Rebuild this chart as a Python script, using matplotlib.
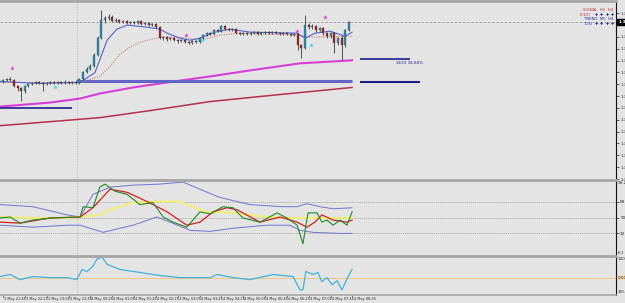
import numpy as np
import matplotlib.pyplot as plt

W, H = 625, 303
BG = '#e4e4e4'

# ---- candles ----
closes = [1.3520, 1.3521, 1.3520, 1.3514, 1.3512, 1.3510, 1.3514, 1.3516, 1.3517, 1.3518,
          1.3517, 1.3516, 1.3517, 1.3518, 1.3517, 1.3518, 1.3517, 1.3518, 1.3517, 1.3518,
          1.3517, 1.3521, 1.3528, 1.3531, 1.3534, 1.3545, 1.3562, 1.3580, 1.3582, 1.3583,
          1.3579, 1.3580, 1.3578, 1.3579, 1.3577, 1.3578, 1.3577, 1.3579, 1.3576, 1.3577,
          1.3575, 1.3576, 1.3573, 1.3562, 1.3563, 1.3561, 1.3562, 1.3560, 1.3559, 1.3560,
          1.3558, 1.3557, 1.3559, 1.3558, 1.3562, 1.3565, 1.3567, 1.3566, 1.3570, 1.3569,
          1.3574, 1.3571, 1.3570, 1.3571, 1.3567, 1.3566, 1.3567, 1.3566, 1.3567, 1.3568,
          1.3566, 1.3567, 1.3568, 1.3567, 1.3568, 1.3567, 1.3566, 1.3567, 1.3566, 1.3565,
          1.3566, 1.3555, 1.3552, 1.3575, 1.3573, 1.3574, 1.3570, 1.3572, 1.3567, 1.3564,
          1.3567, 1.3557, 1.3562, 1.3555, 1.3570, 1.3578]
highs = [1.3521, 1.3522, 1.3523, 1.3521, 1.3515, 1.3513, 1.3515, 1.3517, 1.3518, 1.3519,
         1.3519, 1.3518, 1.3518, 1.3519, 1.3519, 1.3519, 1.3519, 1.3520, 1.3519, 1.3519,
         1.3519, 1.3522, 1.3529, 1.3533, 1.3536, 1.3547, 1.3564, 1.3590, 1.3584, 1.3586,
         1.3585, 1.3582, 1.3581, 1.3580, 1.3580, 1.3579, 1.3579, 1.3580, 1.3580, 1.3578,
         1.3578, 1.3577, 1.3577, 1.3574, 1.3564, 1.3564, 1.3563, 1.3563, 1.3561, 1.3561,
         1.3561, 1.3559, 1.3560, 1.3560, 1.3563, 1.3566, 1.3568, 1.3568, 1.3571, 1.3571,
         1.3575, 1.3575, 1.3572, 1.3572, 1.3572, 1.3568, 1.3568, 1.3568, 1.3568, 1.3569,
         1.3569, 1.3568, 1.3569, 1.3569, 1.3569, 1.3569, 1.3568, 1.3568, 1.3568, 1.3567,
         1.3567, 1.3567, 1.3556, 1.3585, 1.3577, 1.3576, 1.3575, 1.3573, 1.3573, 1.3568,
         1.3568, 1.3568, 1.3563, 1.3564, 1.3571, 1.3579]
lows = [1.3517, 1.3519, 1.3519, 1.3513, 1.3510, 1.3500, 1.3508, 1.3513, 1.3515, 1.3516,
        1.3516, 1.3510, 1.3515, 1.3516, 1.3516, 1.3516, 1.3516, 1.3516, 1.3516, 1.3516,
        1.3516, 1.3516, 1.3520, 1.3527, 1.3530, 1.3533, 1.3544, 1.3561, 1.3577, 1.3580,
        1.3578, 1.3578, 1.3577, 1.3577, 1.3576, 1.3576, 1.3576, 1.3576, 1.3575, 1.3575,
        1.3574, 1.3574, 1.3572, 1.3561, 1.3560, 1.3559, 1.3560, 1.3559, 1.3557, 1.3558,
        1.3557, 1.3556, 1.3556, 1.3557, 1.3557, 1.3561, 1.3564, 1.3565, 1.3565, 1.3568,
        1.3568, 1.3570, 1.3569, 1.3569, 1.3566, 1.3565, 1.3565, 1.3565, 1.3565, 1.3566,
        1.3565, 1.3565, 1.3566, 1.3566, 1.3566, 1.3566, 1.3565, 1.3565, 1.3565, 1.3564,
        1.3564, 1.3550, 1.3542, 1.3551, 1.3571, 1.3571, 1.3568, 1.3569, 1.3565, 1.3562,
        1.3562, 1.3547, 1.3555, 1.3540, 1.3553, 1.3569]
opens = [1.3518] + closes[:-1]
bid = 1.3578

# ---- moving averages / levels on the main window (bar index, price) ----
ma_fast_x = [-0.82, 10.2, 21.2, 25.3, 28.6, 31.3, 34.1, 39.6, 43.1, 45.1, 48.6, 51.4,
             54.1, 58.2, 62.4, 67.9, 80.8, 83, 85.7, 89.8, 94, 95.9]
ma_fast_y = [1.3519, 1.3517, 1.3518, 1.3528, 1.3560, 1.3571, 1.3575, 1.3573, 1.3571, 1.3567,
             1.3562, 1.3560, 1.3562, 1.3568, 1.3571, 1.3568, 1.3567, 1.3562, 1.3567, 1.3569,
             1.3564, 1.3568]
ma_slow_x = [-0.82, 21.2, 26.6, 29.4, 32.1, 34.9, 37.6, 43.1, 48.6, 54.1, 59.6, 65.1, 80.8, 84.3, 95.9]
ma_slow_y = [1.3518, 1.3518, 1.3524, 1.3534, 1.3546, 1.3553, 1.3558, 1.3563, 1.3563, 1.3560,
             1.3565, 1.3567, 1.3565, 1.3563, 1.3564]
ma_magenta_x = [-0.82, 12.9, 21.2, 26.6, 35.7, 45.1, 56.9, 67.9, 81.6, 95.9]
ma_magenta_y = [1.3494, 1.3498, 1.3502, 1.3507, 1.3513, 1.3518, 1.3524, 1.3530, 1.3537, 1.3540]
ma_red_x = [-0.82, 26.6, 40.4, 56.9, 76.1, 95.9]
ma_red_y = [1.3475, 1.3483, 1.3490, 1.3499, 1.3506, 1.3513]

sell_x = [2.4, 50.3, 80.9, 88.5]
sell_y = [1.3532, 1.3565, 1.3569, 1.3583]
buy_x = [14.3, 54.6, 84.6]
buy_y = [1.3513, 1.3560, 1.3555]

price_ticks = [1.35870, 1.35634, 1.35516, 1.35398, 1.35280, 1.35163, 1.35045, 1.34927,
               1.34809, 1.34691, 1.34573, 1.34455, 1.34337, 1.34219]

# ---- TDI window ----
up_x = [-0.82, 8.2, 17.6, 21.2, 24.7, 29.4, 35.7, 43.1, 49.5, 54.1, 59.6, 67.9, 76.9, 80.8, 83.5, 87.1, 90.7, 95.9]
up_y = [65.0, 62.6, 53.2, 50.8, 76.7, 85.0, 87.3, 88.5, 90.8, 82.6, 73.2, 65.0, 62.6, 62.6, 66.1, 62.6, 60.2, 61.4]
lo_x = [-0.82, 8.2, 17.6, 21.2, 27.5, 35.7, 42.3, 45.9, 51.4, 56.9, 63.2, 72.5, 78.8, 81.6, 85.2, 92.6, 95.9]
lo_y = [41.4, 39.1, 41.4, 41.4, 33.2, 41.4, 50.8, 44.9, 35.5, 34.3, 37.9, 41.4, 41.4, 35.5, 33.2, 32.0, 32.0]
base_x = [-0.82, 8.2, 17.6, 21.2, 26.6, 29.4, 35.7, 42.3, 48.6, 54.1, 56.9, 59.6, 63.2, 72.5, 79.7, 84.3, 90.7, 95.9]
base_y = [50.8, 49.7, 49.7, 50.8, 53.2, 59.1, 67.3, 68.5, 68.5, 59.1, 55.5, 56.7, 55.5, 50.8, 49.7, 49.7, 49.7, 49.7]
sig_x = [-0.82, 4.7, 12.9, 21.2, 24.7, 29.4, 34.1, 39.6, 45.1, 50.5, 54.1, 57.7, 61.5, 64.3, 70.6,
         76.1, 80.8, 83.5, 85.7, 87.6, 90.7, 94.5, 95.9]
sig_y = [44.9, 43.8, 49.7, 50.8, 61.4, 82.6, 79.1, 68.5, 56.7, 41.4, 44.9, 56.7, 61.4, 59.1, 44.9,
         50.8, 44.9, 39.1, 44.9, 53.2, 47.3, 44.9, 47.3]
rsi_x = [-0.82, 1.9, 4.7, 8.2, 13.7, 21.2, 22, 24.7, 26.6, 28, 30.8, 34.1, 37.6, 41.2, 44, 46.7,
         50.5, 54.1, 56.9, 60.4, 63.2, 65.9, 70.6, 75.3, 78, 80.8, 82.4, 83.8, 86.3, 87.6, 89,
         90.7, 92.6, 94.5, 95.9]
rsi_y = [49.7, 50.8, 43.8, 47.3, 49.7, 50.8, 62.6, 61.4, 85.0, 88.5, 80.3, 76.7, 65.0, 67.3, 50.8, 44.9,
         39.1, 56.7, 54.4, 62.6, 61.4, 49.7, 44.9, 55.5, 49.7, 41.4, 20.2, 55.5, 55.5, 44.9, 47.3,
         41.4, 47.3, 41.4, 56.7]
tdi_levels = [68, 50, 32]

# ---- lower oscillator ----
osc_x = [-0.82, 1.9, 4.7, 8.2, 12.9, 17.6, 20.3, 21.7, 23.1, 24.7, 25.8, 27.2, 28.6, 32.1, 37.6,
         43.1, 48.6, 56.9, 58.8, 63.2, 67.9, 74.2, 79.7, 81.6, 82.4, 83.2, 85.2, 86.5, 87.6, 89,
         90.4, 91.8, 93.1, 94.8, 95.9]
osc_y = [4.8, 14.4, -9.5, 4.8, 0, 0, -9.5, 38.1, 28.6, 52.4, 85.7, 95.2, 61.9, 38.1, 23.9,
         9.6, 0, 0, 14.4, 0, -9.5, 14.4, 4.8, -57.0, -57.0, 28.6, 14.4, 23.9, -19.0, 0,
         -33.2, -14.2, -57.0, 4.8, 38.1]

time_labels = ['3 May 21:45', '3 May 22:25', '3 May 23:05', '3 May 23:45', '4 May 00:25',
               '4 May 01:05', '4 May 01:45', '4 May 02:25', '4 May 03:05', '4 May 03:45',
               '4 May 04:25', '4 May 05:05', '4 May 05:45', '4 May 06:25', '4 May 07:05',
               '4 May 07:45', '4 May 08:25']


def box(x0, y0, x1, y1):
    return [x0 / W, 1 - y1 / H, (x1 - x0) / W, (y1 - y0) / H]


fig = plt.figure(figsize=(W / 100, H / 100), dpi=100, facecolor=BG)
ax = fig.add_axes(box(0, 1, 616, 180))
ax2 = fig.add_axes(box(0, 180, 616, 256), sharex=ax)
ax3 = fig.add_axes(box(0, 256, 616, 295), sharex=ax)

for a in (ax, ax2, ax3):
    a.set_facecolor(BG)
    a.set_xlim(-0.82, 168.4)
    for s in ('left', 'bottom'):
        a.spines[s].set_visible(False)
    a.spines['top'].set_color('#a6a6a6')
    a.spines['top'].set_linewidth(2)
    a.spines['right'].set_color('#111111')
    a.spines['right'].set_linewidth(0.8)
    a.yaxis.tick_right()
    a.tick_params(axis='y', length=2, width=0.5, labelsize=3.0, pad=1, colors='#222222')
    a.tick_params(axis='x', bottom=False, labelbottom=False)
    a.axvline(20.3, color='#b2b2b2', lw=0.7, ls=':')
ax3.spines['bottom'].set_visible(True)
ax3.spines['bottom'].set_color('#a6a6a6')
ax3.spines['bottom'].set_linewidth(1.2)

# ---- main window ----
ax.set_ylim(1.3421, 1.3599)
ax.set_yticks(price_ticks)
ax.set_yticklabels(['%.5f' % p for p in price_ticks])
ax.axhline(bid, color='#9c9c9c', lw=0.6, ls=(0, (3, 2)))
ax.annotate('%.5f' % bid, xy=(1.0, bid), xycoords=('axes fraction', 'data'),
            xytext=(1.5, 0), textcoords='offset points', va='center', ha='left',
            fontsize=3.0, color='white', fontweight='bold',
            bbox=dict(boxstyle='square,pad=0.15', fc='black', ec='black'))

ax.plot(ma_red_x, ma_red_y, color='#b3304c', lw=1.1)
ax.plot(ma_magenta_x, ma_magenta_y, color='#d63fd6', lw=1.5)
ax.hlines(1.35195, 20.0, 95.9, color='#6464c8', lw=2.2)
ax.hlines(1.3493, -0.82, 19.0, color='#1e1e8a', lw=1.2)
ax.hlines(1.3518, 98, 114.6, color='#1e1e8a', lw=1.5)
ax.hlines(1.3541, 98, 111.8, color='#1e1e8a', lw=1.2)
ax.text(115.5, 1.35395, '1633 34.80%', fontsize=3.0, color='#1e1e8a', ha='right', va='top')
ax.plot(ma_slow_x, ma_slow_y, color='#c47a6a', lw=0.8, ls=(0, (1, 1.2)))
ax.plot(ma_fast_x, ma_fast_y, color='#5262cc', lw=0.8)

xs = np.arange(len(closes))
for i in xs:
    o, c = opens[i], closes[i]
    ax.vlines(i, lows[i], highs[i], color='#3a3a3a', lw=0.6, zorder=3)
    col = '#2c8db3' if c > o else ('#a82222' if c < o else '#333333')
    h = max(abs(c - o), 0.00008)
    ax.bar(i, h, bottom=min(o, c), width=0.55, color=col, edgecolor='#333333', lw=0.2, zorder=4)

ax.scatter(sell_x, sell_y, marker='*', s=14, color='#d84ad8', lw=0, zorder=5)
ax.scatter(buy_x, buy_y, marker='*', s=14, color='#45d5e5', lw=0, zorder=5)

# dashboard text at top right
fig.text(613 / W, 1 - 10 / H, 'SIGNAL  H1  H4', fontsize=2.8, color='#c03030', ha='right', va='center')
fig.text(591 / W, 1 - 14.5 / H, 'D(10)', fontsize=2.8, color='#c03030', ha='right', va='center')
fig.text(613 / W, 1 - 19.5 / H, 'TREND  M5  H4', fontsize=2.8, color='#2a2a9a', ha='right', va='center')
fig.text(593 / W, 1 - 24 / H, 'D(5)', fontsize=2.8, color='#2a2a9a', ha='right', va='center')
for px in (596, 601.5, 607, 612.5):
    for py in (14.5, 24):
        fig.text(px / W, 1 - py / H, '\u271a', fontsize=2.6, color='#22228a', ha='center', va='center')

# ---- TDI window ----
ax2.set_ylim(6.1, 93.2)
ax2.set_yticks(tdi_levels)
ax2.set_yticklabels([str(v) for v in tdi_levels])
for lv in tdi_levels:
    ax2.axhline(lv, color='#a8a8a8', lw=0.7, ls=(0, (1, 1)))
ax2.annotate('93.2', xy=(1.0, 93.2), xycoords=('axes fraction', 'data'), xytext=(1.5, -0.5),
             textcoords='offset points', fontsize=3.0, va='top', ha='left', color='#222222')
ax2.annotate('6.1', xy=(1.0, 6.1), xycoords=('axes fraction', 'data'), xytext=(1.5, 0.5),
             textcoords='offset points', fontsize=3.0, va='bottom', ha='left', color='#222222')
ax2.plot(up_x, up_y, color='#7272d2', lw=0.7)
ax2.plot(lo_x, lo_y, color='#7272d2', lw=0.7)
ax2.plot(base_x, base_y, color='#f3ee78', lw=1.5)
ax2.plot(sig_x, sig_y, color='#d42020', lw=0.9)
ax2.plot(rsi_x, rsi_y, color='#1f8a24', lw=0.8)

# ---- oscillator window ----
ax3.set_ylim(-80.8, 100.4)
ax3.set_yticks([])
ax3.axhline(0, color='#f0c88e', lw=0.8)
ax3.plot(osc_x, osc_y, color='#3fb3de', lw=0.9)
ax3.annotate('100.4', xy=(1.0, 100.4), xycoords=('axes fraction', 'data'), xytext=(1.5, -0.5),
             textcoords='offset points', fontsize=3.0, va='top', ha='left', color='#222222')
ax3.annotate('0.00', xy=(1.0, 0), xycoords=('axes fraction', 'data'), xytext=(1.5, 0),
             textcoords='offset points', fontsize=3.0, va='center', ha='left', color='#222222',
             bbox=dict(boxstyle='square,pad=0.1', fc='#f5d9a6', ec='none'))
ax3.annotate('-80.8', xy=(1.0, -80.8), xycoords=('axes fraction', 'data'), xytext=(1.5, 0.5),
             textcoords='offset points', fontsize=3.0, va='bottom', ha='left', color='#222222')

for k, lab in enumerate(time_labels):
    ax3.annotate(lab, xy=(k * 6, 0), xycoords=('data', 'axes fraction'), xytext=(0.8, -1.2),
                 textcoords='offset points', fontsize=2.5, va='top', ha='left', color='#222222')
    ax3.plot([k * 6, k * 6], [-80.8, -88], color='#222222', lw=0.4, clip_on=False)

fig.savefig('out.png', dpi=100, facecolor=BG)
